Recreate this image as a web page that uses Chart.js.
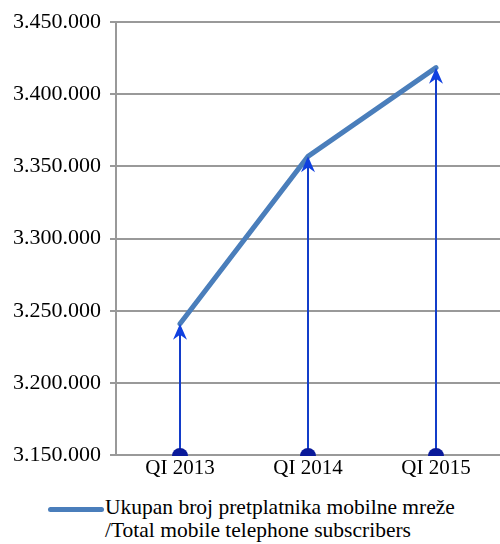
<!DOCTYPE html>
<html>
<head>
<meta charset="utf-8">
<script src="https://cdn.jsdelivr.net/npm/chart.js@4"></script>
<style>
  body { margin: 0; background: #fff; }
  #wrap { width: 500px; height: 490px; position: relative; }
  #legend { position: absolute; left: 48px; top: 496px; font-family: "Liberation Serif", serif; font-size: 21.5px; color: #000; line-height: 23px; }
  #legend .swatch { position: absolute; left: 0; top: 11px; width: 56px; height: 5px; background: #4a7ebb; border-radius: 3px; }
  #legend .txt { margin-left: 57px; white-space: nowrap; }
</style>
</head>
<body>
<div id="wrap"><canvas id="chart"></canvas></div>
<div id="legend"><span class="swatch"></span><div class="txt">Ukupan broj pretplatnika mobilne mreže<br>/Total mobile telephone subscribers</div></div>
<script>
var labels = ['QI 2013', 'QI 2014', 'QI 2015'];
var subscribers = [3241000, 3357000, 3418500];
var yMin = 3150000;
var yMax = 3450000;
var yStep = 50000;

function fmt(v) {
    return v.toString().replace(/\B(?=(\d{3})+(?!\d))/g, '.');
}

var serif = "'Liberation Serif', 'Times New Roman', serif";

var arrows = {
    id: 'arrows',
    afterDatasetsDraw: function(chart) {
        var ctx = chart.ctx;
        var x = chart.scales.x, y = chart.scales.y;
        var bottom = y.getPixelForValue(yMin);
        ctx.save();
        subscribers.forEach(function(v, i) {
            var px = x.getPixelForValue(i);
            var top = y.getPixelForValue(v);
            // shaft
            ctx.strokeStyle = '#1a55f0';
            ctx.lineWidth = 2;
            ctx.beginPath();
            ctx.moveTo(px, bottom);
            ctx.lineTo(px, top + 10);
            ctx.stroke();
            ctx.strokeStyle = '#0a1a90';
            ctx.lineWidth = 0.8;
            ctx.beginPath();
            ctx.moveTo(px, bottom);
            ctx.lineTo(px, top + 10);
            ctx.stroke();
            // head
            ctx.fillStyle = '#1040e0';
            ctx.beginPath();
            ctx.moveTo(px, top);
            ctx.lineTo(px + 7, top + 16);
            ctx.lineTo(px, top + 11);
            ctx.lineTo(px - 7, top + 16);
            ctx.closePath();
            ctx.fill();
            // dot
            ctx.fillStyle = '#0a1a9a';
            ctx.beginPath();
            ctx.arc(px, bottom + 1, 8, Math.PI, 0);
            ctx.closePath();
            ctx.fill();
        });
        ctx.restore();
    }
};

function draw() {
    new Chart(document.getElementById('chart'), {
        type: 'line',
        data: {
            labels: labels,
            datasets: [{
                label: 'Ukupan broj pretplatnika mobilne mreže /Total mobile telephone subscribers',
                data: subscribers,
                borderColor: '#4a7ebb',
                borderWidth: 5,
                pointRadius: 0,
                tension: 0,
                borderCapStyle: 'round'
            }]
        },
        options: {
            responsive: true,
            maintainAspectRatio: false,
            animation: false,
            layout: { padding: { top: 9, right: 0, left: 0, bottom: 0 } },
            plugins: {
                legend: { display: false },
                tooltip: { enabled: false }
            },
            scales: {
                x: {
                    offset: true,
                    grid: { display: false, drawTicks: false },
                    border: { display: false },
                    ticks: {
                        color: '#000',
                        padding: 1,
                        font: { family: serif, size: 21 }
                    },
                    afterFit: function(scale) { scale.height = 35; }
                },
                y: {
                    min: yMin,
                    max: yMax,
                    grid: { color: '#999', lineWidth: 2, tickLength: 6 },
                    border: { display: true, color: '#999', width: 2 },
                    ticks: {
                        stepSize: yStep,
                        color: '#000',
                        padding: 9,
                        font: { family: serif, size: 22 },
                        callback: function(value) { return fmt(value); }
                    },
                    afterFit: function(scale) { scale.width = 116; }
                }
            }
        },
        plugins: [arrows]
    });
}

document.fonts.load("22px 'Liberation Serif'").then(draw, draw);
</script>
</body>
</html>
